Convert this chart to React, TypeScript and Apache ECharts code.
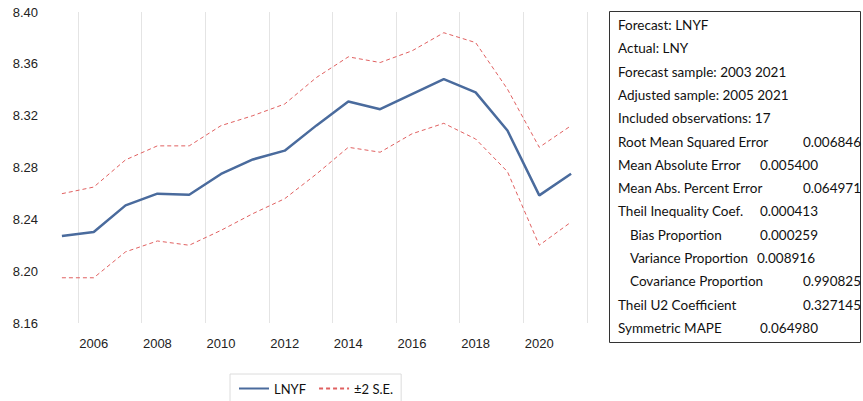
import React, { useEffect, useRef } from "react";
import * as echarts from "echarts";

// Forecast evaluation: LNYF with ±2 standard error band
const years = [
  "2005", "2006", "2007", "2008", "2009", "2010", "2011", "2012", "2013",
  "2014", "2015", "2016", "2017", "2018", "2019", "2020", "2021",
];
const lnyf = [
  8.2272, 8.2302, 8.2508, 8.2598, 8.259, 8.275, 8.2862, 8.293, 8.3125,
  8.331, 8.325, 8.3367, 8.3482, 8.338, 8.3085, 8.2585, 8.2752,
];
const upperSE = [
  8.2598, 8.2649, 8.2859, 8.2967, 8.2967, 8.3123, 8.32, 8.329, 8.3495,
  8.3654, 8.361, 8.37, 8.384, 8.3764, 8.3405, 8.2956, 8.3123,
];
const lowerSE = [
  8.1949, 8.1949, 8.2149, 8.2233, 8.22, 8.2315, 8.2444, 8.2559, 8.275,
  8.2956, 8.2918, 8.306, 8.3141, 8.302, 8.2768, 8.22, 8.2379,
];

// Statistics panel: label, value, indent, value column
const statLabels = [
  "Forecast: LNYF",
  "Actual: LNY",
  "Forecast sample: 2003 2021",
  "Adjusted sample: 2005 2021",
  "Included observations: 17",
  "Root Mean Squared Error",
  "Mean Absolute Error",
  "Mean Abs. Percent Error",
  "Theil Inequality Coef.",
  "Bias Proportion",
  "Variance Proportion",
  "Covariance Proportion",
  "Theil U2 Coefficient",
  "Symmetric MAPE",
];
const statValues = [
  "", "", "", "", "",
  "0.006846", "0.005400", "0.064971", "0.000413", "0.000259",
  "0.008916", "0.990825", "0.327145", "0.064980",
];
const statIndented = [9, 10, 11];
const statWideColumn = [5, 7, 11, 12];

const BLUE = "#4a6b9d";
const RED = "#e06060";

export default function App() {
  const ref = useRef<HTMLDivElement>(null);

  useEffect(() => {
    if (!ref.current) return;
    const chart = echarts.init(ref.current, undefined, { renderer: "svg" });

    const statFont = "Lato";
    const rowY = (i: number) => 25 + i * 23.3;
    const statTexts: any[] = [];
    statLabels.forEach((label, i) => {
      statTexts.push({
        type: "text",
        x: statIndented.includes(i) ? 630 : 618,
        y: rowY(i),
        style: {
          text: label,
          fontSize: 13.5,
          fontFamily: statFont,
          fill: "#111",
          verticalAlign: "middle",
        },
      });
      if (statValues[i]) {
        statTexts.push({
          type: "text",
          x: statWideColumn.includes(i) ? 803 : i === 10 ? 757 : 760,
          y: rowY(i),
          style: {
            text: statValues[i],
            fontSize: 13.5,
            fontFamily: statFont,
            fill: "#111",
            verticalAlign: "middle",
          },
        });
      }
    });

    const everyOther = (idx: number) => idx % 2 === 1;

    chart.setOption({
      animation: false,
      backgroundColor: "#ffffff",
      grid: { left: 46, right: 276, top: 12, bottom: 78, containLabel: false },
      legend: {
        left: 230,
        top: 374,
        data: ["LNYF", "±2 S.E."],
        itemWidth: 30,
        itemHeight: 10,
        itemGap: 12,
        padding: [8, 8, 12, 8],
        borderColor: "#dcdcdc",
        borderWidth: 1,
        itemStyle: { opacity: 0 },
        textStyle: { fontFamily: statFont, fontSize: 13, color: "#111" },
      },
      xAxis: {
        type: "category",
        data: years,
        boundaryGap: true,
        axisLine: { show: false },
        axisTick: { show: false },
        axisLabel: {
          interval: everyOther,
          fontFamily: "Liberation Sans",
          fontSize: 13,
          color: "#222",
          margin: 14,
        },
        splitLine: {
          show: true,
          interval: everyOther,
          lineStyle: { color: "#e4e4e4", width: 1 },
        },
      },
      yAxis: {
        type: "value",
        min: 8.16,
        max: 8.4,
        interval: 0.04,
        axisLine: { show: false },
        axisTick: { show: false },
        splitLine: { show: false },
        axisLabel: {
          formatter: (v: number) => v.toFixed(2),
          fontFamily: "Liberation Sans",
          fontSize: 13,
          color: "#222",
          margin: 8,
        },
      },
      series: [
        {
          name: "LNYF",
          type: "line",
          data: lnyf,
          symbol: "none",
          lineStyle: { color: BLUE, width: 2.5 },
          itemStyle: { color: BLUE },
          z: 3,
        },
        {
          name: "±2 S.E.",
          type: "line",
          data: upperSE,
          symbol: "none",
          lineStyle: { color: RED, width: 1, type: [4, 3] },
          itemStyle: { color: RED },
        },
        {
          name: "±2 S.E.",
          type: "line",
          data: lowerSE,
          symbol: "none",
          lineStyle: { color: RED, width: 1, type: [4, 3] },
          itemStyle: { color: RED },
        },
      ],
      graphic: [
        {
          type: "rect",
          shape: { x: 609.5, y: 11.5, width: 251, height: 331 },
          style: { fill: "#ffffff", stroke: "#333", lineWidth: 1 },
        },
        ...statTexts,
      ],
    });

    return () => chart.dispose();
  }, []);

  return (
    <div
      ref={ref}
      style={{ position: "fixed", left: 0, top: 0, width: 863, height: 401 }}
    />
  );
}
